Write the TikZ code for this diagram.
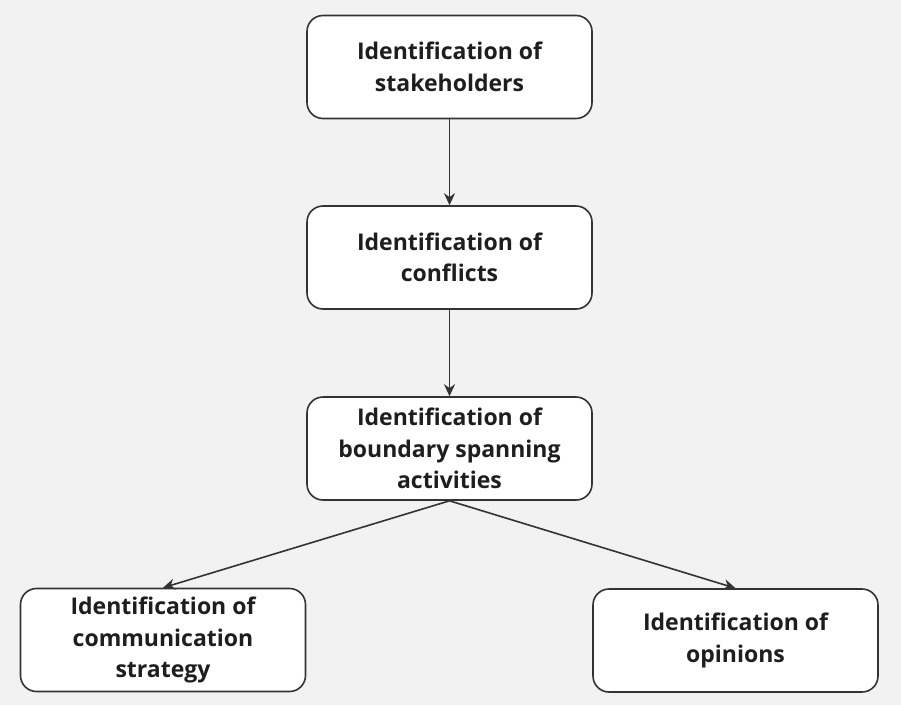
\documentclass[tikz,border=0pt]{standalone}
\usepackage{fontspec}
\setmainfont{Open Sans}
\usetikzlibrary{arrows.meta}
\definecolor{bg}{HTML}{F2F2F2}
\definecolor{ink}{HTML}{1E1E1E}
\definecolor{edge}{HTML}{333333}
\begin{document}
\begin{tikzpicture}[x=1pt,y=-1pt,
  stepbox/.style={draw=edge, line width=1.6pt, fill=white, rounded corners=16pt,
    minimum width=285pt, minimum height=103pt, align=center, text=ink,
    font=\fontsize{23}{31.5}\selectfont\bfseries, inner sep=0pt},
  conn/.style={draw=edge, line width=1.6pt, -{Stealth[length=12pt,width=11pt]}}]
\fill[bg] (0,0) rectangle (901,705);
\useasboundingbox (0,0) rectangle (901,705);
\node[stepbox] (a) at (449.5,67) {Identification of\\stakeholders};
\node[stepbox] (b) at (449.5,257.5) {Identification of\\conflicts};
\node[stepbox] (c) at (449.5,448.5) {Identification of\\boundary spanning\\activities};
\node[stepbox] (d) at (163,640) {Identification of\\communication\\strategy};
\node[stepbox] (e) at (735.5,640.5) {Identification of\\opinions};
\draw[conn] (a.south) -- (b.north);
\draw[conn] (b.south) -- (c.north);
\draw[conn] (c.south) -- (d.north);
\draw[conn] (c.south) -- (e.north);
\end{tikzpicture}
\end{document}
